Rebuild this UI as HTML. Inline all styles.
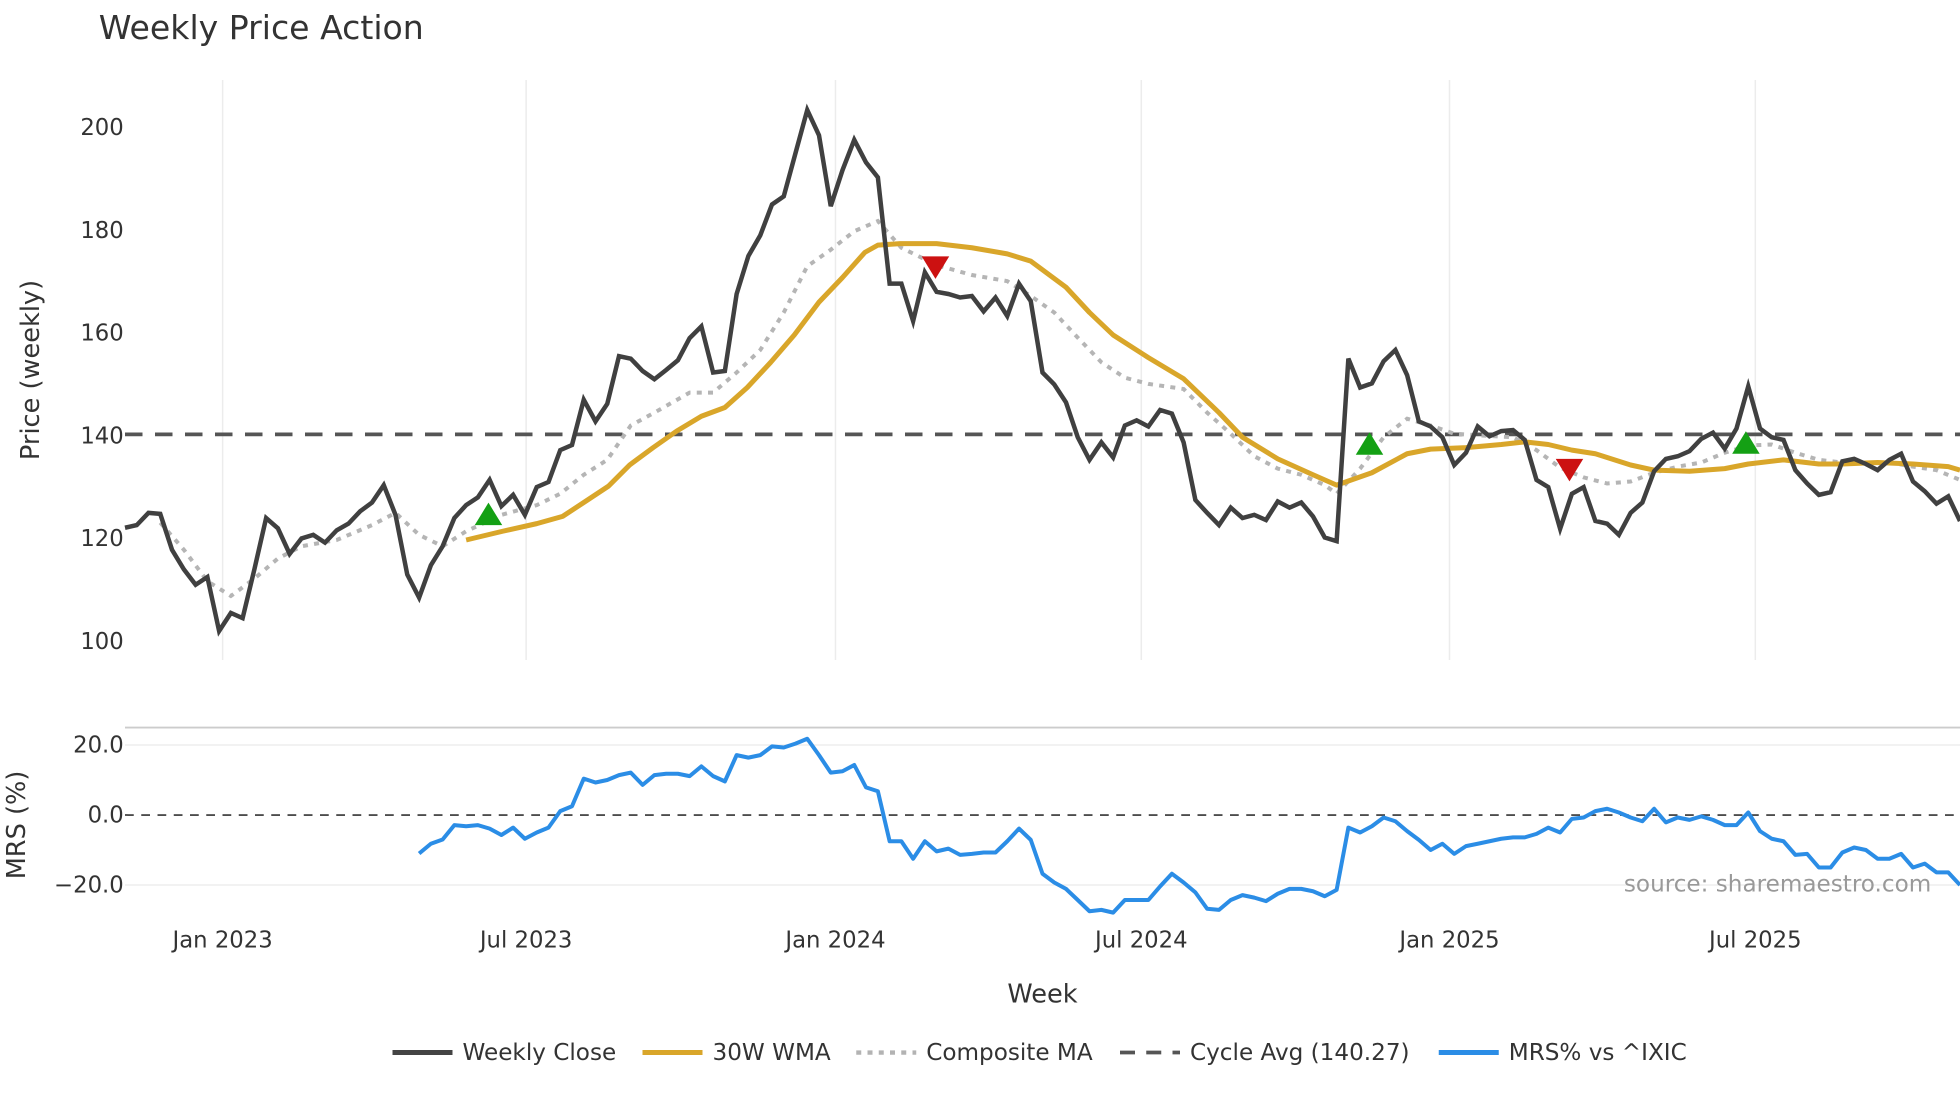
<!DOCTYPE html>
<html><head><meta charset="utf-8"><title>Weekly Price Action</title>
<style>html,body{margin:0;padding:0;background:#fff;}svg{display:block;font-family:"DejaVu Sans","Liberation Sans",sans-serif;}</style>
</head><body>
<svg id="chart" width="1960" height="1102" viewBox="0 0 1568 881.6" xmlns="http://www.w3.org/2000/svg">
<rect x="0" y="0" width="1568" height="881.6" fill="#fff"/>
<text x="79" y="31" font-size="26.5" fill="#333">Weekly Price Action</text>
<g id="grid"></g><g id="series"></g><g id="axes"></g>
<text transform="translate(31,296) rotate(-90)" text-anchor="middle" font-size="20.5" fill="#333">Price (weekly)</text>
<text transform="translate(20,660) rotate(-90)" text-anchor="middle" font-size="20.5" fill="#333">MRS (%)</text>
<text x="834" y="802" text-anchor="middle" font-size="20.5" fill="#333">Week</text>
<text x="1545" y="713" text-anchor="end" font-size="18.5" fill="#999">source: sharemaestro.com</text>
<g font-size="18.5" fill="#333">
 <g><line x1="314" y1="842" x2="362" y2="842" stroke="#444" stroke-width="4"/><text x="370" y="848">Weekly Close</text></g>
 <g><line x1="514" y1="842" x2="562" y2="842" stroke="#d9a62a" stroke-width="4"/><text x="570" y="848">30W WMA</text></g>
 <g><line x1="685" y1="842" x2="733" y2="842" stroke="#b3b3b3" stroke-width="3.5" stroke-dasharray="4,5"/><text x="741" y="848">Composite MA</text></g>
 <g><line x1="896" y1="842" x2="944" y2="842" stroke="#555" stroke-width="3" stroke-dasharray="12,9"/><text x="952" y="848">Cycle Avg (140.27)</text></g>
 <g><line x1="1151" y1="842" x2="1199" y2="842" stroke="#2b8de6" stroke-width="4"/><text x="1207" y="848">MRS% vs ^IXIC</text></g>
</g>
</svg>
<script>
const closeVals=[122.1,122.6,125,124.8,117.8,114,111,112.5,102,105.5,104.5,114,124,122,117,120,120.7,119.2,121.6,122.9,125.3,127,130.4,124.6,113,108.5,114.8,118.5,124,126.5,128,131.4,126.3,128.5,124.6,130,131,137.2,138.2,147,142.8,146.2,155.5,155,152.6,151,152.8,154.7,159,161.3,152.3,152.6,167.6,175,179,185,186.6,195,203.4,198.5,184.7,191.7,197.6,193.2,190.3,169.6,169.6,162.3,171.8,168,167.6,166.9,167.2,164.2,166.9,163.3,169.6,166.2,152.3,150,146.5,139.7,135.3,138.7,135.8,142,143,141.8,145,144.3,138.7,127.5,125,122.6,126,124,124.6,123.6,127.2,126,127,124.3,120.2,119.5,155,149.4,150.2,154.5,156.7,151.8,142.8,141.8,139.7,134.3,136.7,141.8,139.9,140.9,141.1,139.2,131.4,130,121.9,128.7,130,123.4,122.9,120.7,125,127,133.1,135.5,136,137,139.4,140.6,137.5,141.4,149.6,141.4,139.7,139.2,133.3,130.7,128.5,129,135,135.5,134.5,133.3,135.3,136.5,131.1,129.2,126.8,128.2,123.4];
const wmaWeeks=[29,32.1,35,37.2,39,41.1,42.9,44.9,46.9,49,51,52.9,54.9,56.9,59,61,62.9,64,65.9,69,72,75,77,80,82,84,87,90,93,95,98,101,103,106,109,111,114,117,119,121,123,125,128,130,133,136,138,141,144,146,149,152,155,156];
const wmaVals=[119.7,121.4,122.9,124.3,127,130.2,134.3,137.7,140.9,143.8,145.5,149.4,154.3,159.6,166,170.8,175.7,177.1,177.4,177.4,176.6,175.4,174,168.9,164,159.6,155.2,151.1,144.5,139.7,135.5,132.4,130.4,132.8,136.5,137.4,137.7,138.3,138.8,138.3,137.2,136.5,134.3,133.3,133.1,133.6,134.5,135.3,134.5,134.5,134.8,134.5,134,133.3];
const compWeeks=[3,5,7,9,11,13,15,18,21,23,25,27,29,32,35,37,39,41,43,45,48,50,52,54,56,58,60,62,64,66,69,72,75,77,79,81,83,85,87,90,92,94,96,98,100,102,103,105,107,109,111,113,115,118,120,122,124,126,128,130,132,134,136,138,140,142,144,146,148,150,152,154,156];
const compVals=[123.1,117.8,111.7,108.8,112.2,116.1,118.5,119.7,122.6,125,120.7,118.5,121.4,124.6,126.5,128.7,132.4,135.3,142,144.5,148.4,148.4,152.3,156.7,164,173,176.2,179.8,181.8,176.6,173.2,171.3,170.1,167.2,164,159.1,154.3,151.3,150.1,149.1,144.5,140.4,136,133.6,132.4,130.4,128.7,133.6,139.7,143.3,142,140.4,140.1,139.7,137.2,133.8,131.9,130.7,131.1,132.8,134,134.8,136.7,138.1,138.3,136.7,135.3,134.8,134.8,134.8,134,133.3,131.4];
const mrsVals=[-11,-8.2,-7,-2.9,-3.2,-2.9,-3.9,-5.7,-3.6,-6.8,-5,-3.6,1.1,2.5,10.4,9.3,10,11.4,12.1,8.6,11.4,11.8,11.8,11.1,13.9,11.1,9.6,17.1,16.4,17.1,19.6,19.3,20.4,21.8,17.1,12.1,12.5,14.3,7.9,6.8,-7.5,-7.5,-12.5,-7.5,-10.4,-9.6,-11.4,-11.1,-10.7,-10.7,-7.5,-3.9,-7.1,-16.8,-19.3,-21.1,-24.3,-27.5,-27.1,-27.9,-24.3,-24.3,-24.3,-20.4,-16.8,-19.3,-22.1,-26.8,-27.1,-24.3,-22.9,-23.6,-24.6,-22.5,-21.1,-21.1,-21.8,-23.2,-21.4,-3.6,-5,-3.2,-0.7,-1.8,-4.6,-7.1,-10,-8.2,-11.1,-8.9,-8.2,-7.5,-6.8,-6.4,-6.4,-5.4,-3.6,-5,-1.1,-0.7,1.1,1.8,0.7,-0.7,-1.8,1.8,-2.1,-0.7,-1.4,-0.4,-1.4,-2.9,-2.9,0.7,-4.6,-6.8,-7.5,-11.4,-11.1,-15,-15,-10.7,-9.3,-10,-12.5,-12.5,-11.1,-15,-13.9,-16.4,-16.4,-20];
const cycleAvg=140.27;
const buyWeeks=[30.9,105.8,137.8];
const buyVals=[124.3,138,138.2];
const sellWeeks=[68.9,122.8];
const sellVals=[173.2,133.8];
const priceTicks=[100,120,140,160,180,200];
const mrsTicks=[20,0,-20];
const mrsTickLabels=["20.0","0.0","\u221220.0"];
const dateTickWeeks=[8.3,34.1,60.4,86.4,112.6,138.6];
const dateTickLabels=["Jan 2023","Jul 2023","Jan 2024","Jul 2024","Jan 2025","Jul 2025"];

const NS="http://www.w3.org/2000/svg";
const X0=100,X1=1568,NW=156;
function xs(i){return X0+i*(X1-X0)/NW;}
function yp(v){return 513-(v-100)*4.11;}
function ym(v){return 652-v*2.8;}
function mk(tag,attrs,parent){const e=document.createElementNS(NS,tag);for(const k in attrs)e.setAttribute(k,attrs[k]);parent.appendChild(e);return e;}
const grid=document.getElementById('grid'),ser=document.getElementById('series'),axes=document.getElementById('axes');

dateTickWeeks.forEach((w,i)=>{
 const g=mk('line',{x1:xs(w),x2:xs(w),y1:64,y2:528,stroke:'#ececec','stroke-width':1.2},grid);
 
 
 const t=mk('text',{x:xs(w),y:758,'text-anchor':'middle','font-size':18.2,fill:'#333'},axes);
 t.textContent=dateTickLabels[i];
 
 
});
priceTicks.forEach(v=>{
 const t=mk('text',{x:99,y:yp(v)+6,'text-anchor':'end','font-size':18.2,fill:'#333'},axes);
 t.textContent=v;
 
 
});
const sep=mk('line',{x1:100,x2:1568,y1:582,y2:582,stroke:'#ccc','stroke-width':1.5},grid);


mrsTicks.forEach((v,i)=>{
 if(v!==0){const g=mk('line',{x1:100,x2:1568,y1:ym(v),y2:ym(v),stroke:'#eee','stroke-width':1.2},grid);
 
 }
 const t=mk('text',{x:99,y:ym(v)+6,'text-anchor':'end','font-size':18.2,fill:'#333'},axes);
 t.textContent=mrsTickLabels[i];
 
 
});
const zl=mk('line',{x1:100,x2:1568,y1:ym(0),y2:ym(0),stroke:'#333','stroke-width':1.3,'stroke-dasharray':'7,6'},grid);



function pathFrom(weeks,vals,yf){return weeks.map((w,i)=>(i?'L':'M')+xs(w).toFixed(1)+','+yf(vals[i]).toFixed(1)).join('');}
const ca=mk('line',{x1:100,x2:1568,y1:yp(cycleAvg),y2:yp(cycleAvg),stroke:'#555','stroke-width':3,'stroke-dasharray':'14,10'},ser);


const cp=mk('path',{d:pathFrom(compWeeks,compVals,yp),fill:'none',stroke:'#b5b5b5','stroke-width':3.2,'stroke-dasharray':'4,5'},ser);


const wp=mk('path',{d:pathFrom(wmaWeeks,wmaVals,yp),fill:'none',stroke:'#d9a62a','stroke-width':4,'stroke-linejoin':'round'},ser);


const cw=closeVals.map((v,i)=>i);
const cl=mk('path',{d:pathFrom(cw,closeVals,yp),fill:'none',stroke:'#404040','stroke-width':3.6,'stroke-linejoin':'miter'},ser);


buyWeeks.forEach((w,i)=>{const x=xs(w),y=yp(buyVals[i]);
 const p=mk('polygon',{points:`${x-11},${y+7} ${x+11},${y+7} ${x},${y-11}`,fill:'#14a014'},ser);
 
 });
sellWeeks.forEach((w,i)=>{const x=xs(w),y=yp(sellVals[i]);
 const p=mk('polygon',{points:`${x-11},${y-7} ${x+11},${y-7} ${x},${y+11}`,fill:'#cc1111'},ser);
 
 });
const mw=mrsVals.map((v,i)=>NW-mrsVals.length+1+i);
const mp=mk('path',{d:pathFrom(mw,mrsVals,ym),fill:'none',stroke:'#2b8de6','stroke-width':3.2,'stroke-linejoin':'round'},ser);


</script>
</body></html>
